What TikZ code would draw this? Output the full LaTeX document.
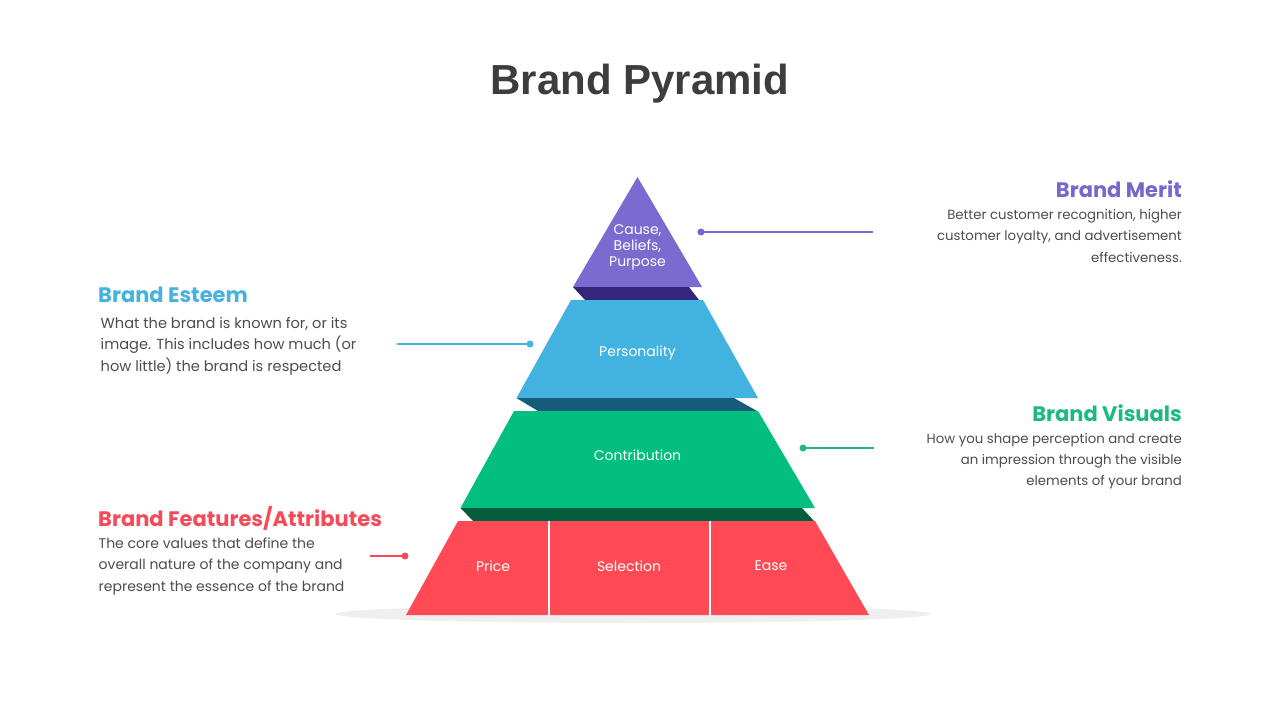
\documentclass[tikz,border=0pt]{standalone}
\usepackage{fontspec}
\setmainfont{Poppins}
\newfontfamily\titlefont{Liberation Sans}
\definecolor{titlegray}{HTML}{3D3D3D}
\definecolor{descgray}{HTML}{4D4D4D}
\definecolor{purp}{HTML}{7B6AD0}
\definecolor{purpdark}{HTML}{34267A}
\definecolor{blu}{HTML}{42B3E0}
\definecolor{bludark}{HTML}{165C7A}
\definecolor{grn}{HTML}{02BF7F}
\definecolor{grndark}{HTML}{045E3E}
\definecolor{rd}{HTML}{FF4A56}
\definecolor{shadowgray}{HTML}{EFEFEF}
\definecolor{merit}{HTML}{7866CF}
\definecolor{esteem}{HTML}{45B2DF}
\definecolor{visuals}{HTML}{1BBB80}
\definecolor{features}{HTML}{F54B58}
\begin{document}
\begin{tikzpicture}[x=1pt,y=-1pt,
  head/.style={font=\bfseries\fontsize{21}{25}\selectfont, inner sep=0pt},
  desc/.style={font=\fontsize{13.3}{16}\selectfont, text=descgray, inner sep=0pt},
  descl/.style={font=\fontsize{14.6}{17}\selectfont, text=descgray, inner sep=0pt},
  descf/.style={font=\fontsize{14}{17}\selectfont, text=descgray, inner sep=0pt},
  lbl/.style={font=\fontsize{14}{16}\selectfont, text=white, inner sep=0pt, align=center},
  dotc/.style={circle, inner sep=0pt, minimum size=7pt},
  conn/.style={line width=1.8pt}]
\useasboundingbox (0,0) rectangle (1280,720);
\fill[white] (0,0) rectangle (1280,720);

% title
\node[font=\titlefont\bfseries\fontsize{42}{50}\selectfont, text=titlegray, anchor=base, inner sep=0pt] (title) at (640,94) {Brand Pyramid};

% shadow
\fill[shadowgray] (633,614) ellipse [x radius=298, y radius=9];

% pyramid layers
\fill[purp] (637.5,177) -- (702,287) -- (573,287) -- cycle;
\fill[purpdark] (573,287) -- (689,287) -- (699,300) -- (585,300) -- cycle;
\fill[blu] (571,300) -- (703,300) -- (758,398) -- (516.5,398) -- cycle;
\fill[bludark] (516.5,398) -- (734,398) -- (757,411) -- (538,411) -- cycle;
\fill[grn] (514,411) -- (758,411) -- (815,508) -- (460.5,508) -- cycle;
\fill[grndark] (460.5,508) -- (802,508) -- (814,521) -- (473,521) -- cycle;
\fill[rd] (458,521) -- (815,521) -- (869,615) -- (406,615) -- cycle;
\draw[white, line width=2pt] (549,521) -- (549,615);
\draw[white, line width=2pt] (710,521) -- (710,615);

% layer labels
\node[lbl] (cause) at (637.5,247) {Cause,\\[0pt]Beliefs,\\Purpose};
\node[lbl] (pers) at (637.5,353) {Personality};
\node[lbl] (contr) at (637.5,455) {Contribution};
\node[lbl] (price) at (493,566) {Price};
\node[lbl] (sel) at (629,566) {Selection};
\node[lbl] (ease) at (771,566) {Ease};

% Brand Merit
\node[head, text=merit, anchor=base east] (mh) at (1182,197) {Brand Merit};
\node[desc, anchor=base east] (m1) at (1182,219.5) {Better customer recognition, higher};
\node[desc, anchor=base east] (m2) at (1182,240.8) {customer loyalty, and advertisement};
\node[desc, anchor=base east] (m3) at (1182,262.1) {effectiveness.};
\node[dotc, fill=merit] (mdot) at (701,232) {};
\coordinate (mend) at (873,232);
\draw[conn, merit] (mdot.center) -- (mend);

% Brand Esteem
\node[head, text=esteem, anchor=base west] (eh) at (98,302.7) {Brand Esteem};
\node[descl, anchor=base west] (e1) at (100.5,328.5) {What the brand is known for, or its};
\node[descl, anchor=base west] (e2) at (100.5,349.8) {image. This includes how much (or};
\node[descl, anchor=base west] (e3) at (100.5,371.1) {how little) the brand is respected};
\node[dotc, fill=esteem] (edot) at (530,344) {};
\coordinate (eend) at (397,344);
\draw[conn, esteem] (eend) -- (edot.center);

% Brand Visuals
\node[head, text=visuals, anchor=base east] (vh) at (1182,421) {Brand Visuals};
\node[desc, anchor=base east] (v1) at (1182,443.3) {How you shape perception and create};
\node[desc, anchor=base east] (v2) at (1182,464.6) {an impression through the visible};
\node[desc, anchor=base east] (v3) at (1182,485.9) {elements of your brand};
\node[dotc, fill=visuals] (vdot) at (803,448) {};
\coordinate (vend) at (874,448);
\draw[conn, visuals] (vdot.center) -- (vend);

% Brand Features/Attributes
\node[head, text=features, anchor=base west] (fh) at (98,526.7) {Brand Features/Attributes};
\node[descf, anchor=base west] (f1) at (98.5,548.5) {The core values that define the};
\node[descf, anchor=base west] (f2) at (98.5,569.8) {overall nature of the company and};
\node[descf, anchor=base west] (f3) at (98.5,591.1) {represent the essence of the brand};
\node[dotc, fill=features] (fdot) at (405,556) {};
\coordinate (fend) at (370,556);
\draw[conn, features] (fend) -- (fdot.center);
\end{tikzpicture}
\end{document}
